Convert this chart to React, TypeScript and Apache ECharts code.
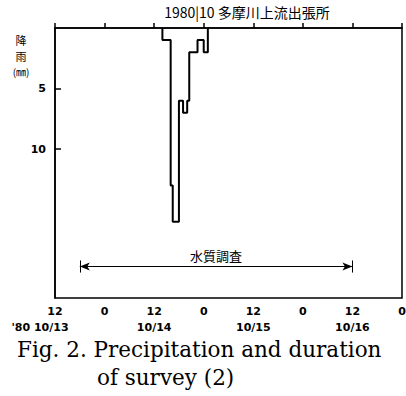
import React, { useEffect, useRef } from "react";
import * as echarts from "echarts";

// hours counted from 1980-10-13 12:00
const hours = [26, 26, 28, 28.5, 30, 31, 32, 32.5, 34.5, 36, 37];
const rain = [0, 1, 13, 16, 6, 7, 6, 2, 1, 2, 0];
const xTickHours = [0, 12, 24, 36, 48, 60, 72, 84];
const hourLabels = ["12", "0", "12", "0", "12", "0", "12", "0"];
const dateLabels = ["'80 10/13", "", "10/14", "", "10/15", "", "10/16", ""];
const yTickValues = [5, 10];
const surveyStart = 6;
const surveyEnd = 72;
const surveyLevel = 19.7;
const surveyLabel = "水質調査";
const titleText = "1980|10 多摩川上流出張所";
const yNameLines = ["降", "雨", "(㎜)"];
const caption1 = "Fig. 2. Precipitation and duration";
const caption2 = "of survey (2)";

export default function App() {
  const ref = useRef<HTMLDivElement>(null);
  useEffect(() => {
    if (!ref.current) return;
    const chart = echarts.init(ref.current, undefined, { renderer: "svg" });
    const data = hours.map((h, i) => [h, rain[i]]);
    chart.setOption({
      animation: false,
      backgroundColor: "#fff",
      grid: {
        left: 55,
        right: 4,
        top: 28,
        bottom: 98,
        show: true,
        borderColor: "#000",
        borderWidth: 1.5,
        containLabel: false,
        outerBoundsMode: "none",
      },
      xAxis: {
        type: "value",
        min: 0,
        max: 84,
        interval: 12,
        axisLine: { show: true, lineStyle: { color: "#000", width: 1.5 } },
        axisTick: { show: true, inside: true, length: 5, lineStyle: { color: "#000", width: 1.5 } },
        splitLine: { show: false },
        axisLabel: {
          margin: 6,
          color: "#000",
          formatter: (v: number) => {
            const i = xTickHours.indexOf(v);
            if (i < 0) return "";
            const d = dateLabels[i];
            if (!d) return `{h|${hourLabels[i]}}`;
            if (i === 0) return `{h|${hourLabels[i]}}\n{f|${d}}`;
            return `{h|${hourLabels[i]}}\n{d|${d}}`;
          },
          rich: {
            h: { fontSize: 11, fontWeight: "bold", fontFamily: "DejaVu Sans", color: "#000", lineHeight: 15 },
            d: { fontSize: 11, fontWeight: "bold", fontFamily: "DejaVu Sans", color: "#000", lineHeight: 17 },
            f: { fontSize: 11, fontWeight: "bold", fontFamily: "DejaVu Sans", color: "#000", lineHeight: 17, padding: [0, 30, 0, 0] },
          },
        },
      },
      yAxis: {
        type: "value",
        inverse: true,
        min: 0,
        max: 22.3,
        axisLine: { show: true, lineStyle: { color: "#000", width: 1.5 } },
        axisTick: {
          show: true,
          inside: true,
          length: 6,
          customValues: yTickValues,
          lineStyle: { color: "#000", width: 1.5 },
        },
        axisLabel: {
          customValues: yTickValues,
          margin: 9,
          color: "#000",
          fontSize: 11,
          fontWeight: "bold",
          fontFamily: "DejaVu Sans",
        },
        splitLine: { show: false },
      },
      series: [
        {
          type: "line",
          step: "end",
          data,
          showSymbol: false,
          symbol: "none",
          lineStyle: { color: "#000", width: 2 },
          clip: false,
          markLine: {
            silent: true,
            animation: false,
            symbol: ["none", "none"],
            lineStyle: { color: "#000", width: 1, type: "solid" },
            data: [
              [
                {
                  coord: [surveyStart, surveyLevel],
                  symbol: "arrow",
                  symbolSize: [6, 10],
                  label: {
                    show: true,
                    position: "middle",
                    formatter: surveyLabel,
                    color: "#000",
                    fontSize: 13,
                    fontFamily: "Noto Sans CJK JP",
                    distance: 5,
                  },
                },
                { coord: [surveyEnd, surveyLevel], symbol: "arrow", symbolSize: [6, 10] },
              ],
              [
                { coord: [surveyStart, surveyLevel - 0.5], label: { show: false } },
                { coord: [surveyStart, surveyLevel + 0.5] },
              ],
              [
                { coord: [surveyEnd, surveyLevel - 0.5], label: { show: false } },
                { coord: [surveyEnd, surveyLevel + 0.5] },
              ],
            ],
          },
        },
      ],
      graphic: [
        {
          type: "text",
          x: 247,
          y: 12,
          style: {
            text: titleText,
            fill: "#000",
            fontSize: 14,
            fontFamily: "Noto Sans CJK JP",
            align: "center",
            verticalAlign: "middle",
          },
        },
        ...yNameLines.map((t, i) => ({
          type: "text",
          x: 21,
          y: 40 + i * 15.5,
          style: {
            text: t,
            fill: "#000",
            fontSize: i === 2 ? 10 : 11,
            lineHeight: 13,
            fontFamily: "Noto Sans CJK JP",
            align: "center",
            verticalAlign: "middle",
          },
        })),
        {
          type: "text",
          x: 17,
          y: 349,
          style: {
            text: caption1,
            fill: "#000",
            fontSize: 21.5,
            fontFamily: "DejaVu Serif",
            align: "left",
            verticalAlign: "middle",
          },
        },
        {
          type: "text",
          x: 97,
          y: 377,
          style: {
            text: caption2,
            fill: "#000",
            fontSize: 21.5,
            fontFamily: "DejaVu Serif",
            align: "left",
            verticalAlign: "middle",
          },
        },
      ],
    });
    return () => chart.dispose();
  }, []);
  return (
    <div
      ref={ref}
      style={{ position: "fixed", left: 0, top: 0, width: 406, height: 396, background: "#fff" }}
    />
  );
}
